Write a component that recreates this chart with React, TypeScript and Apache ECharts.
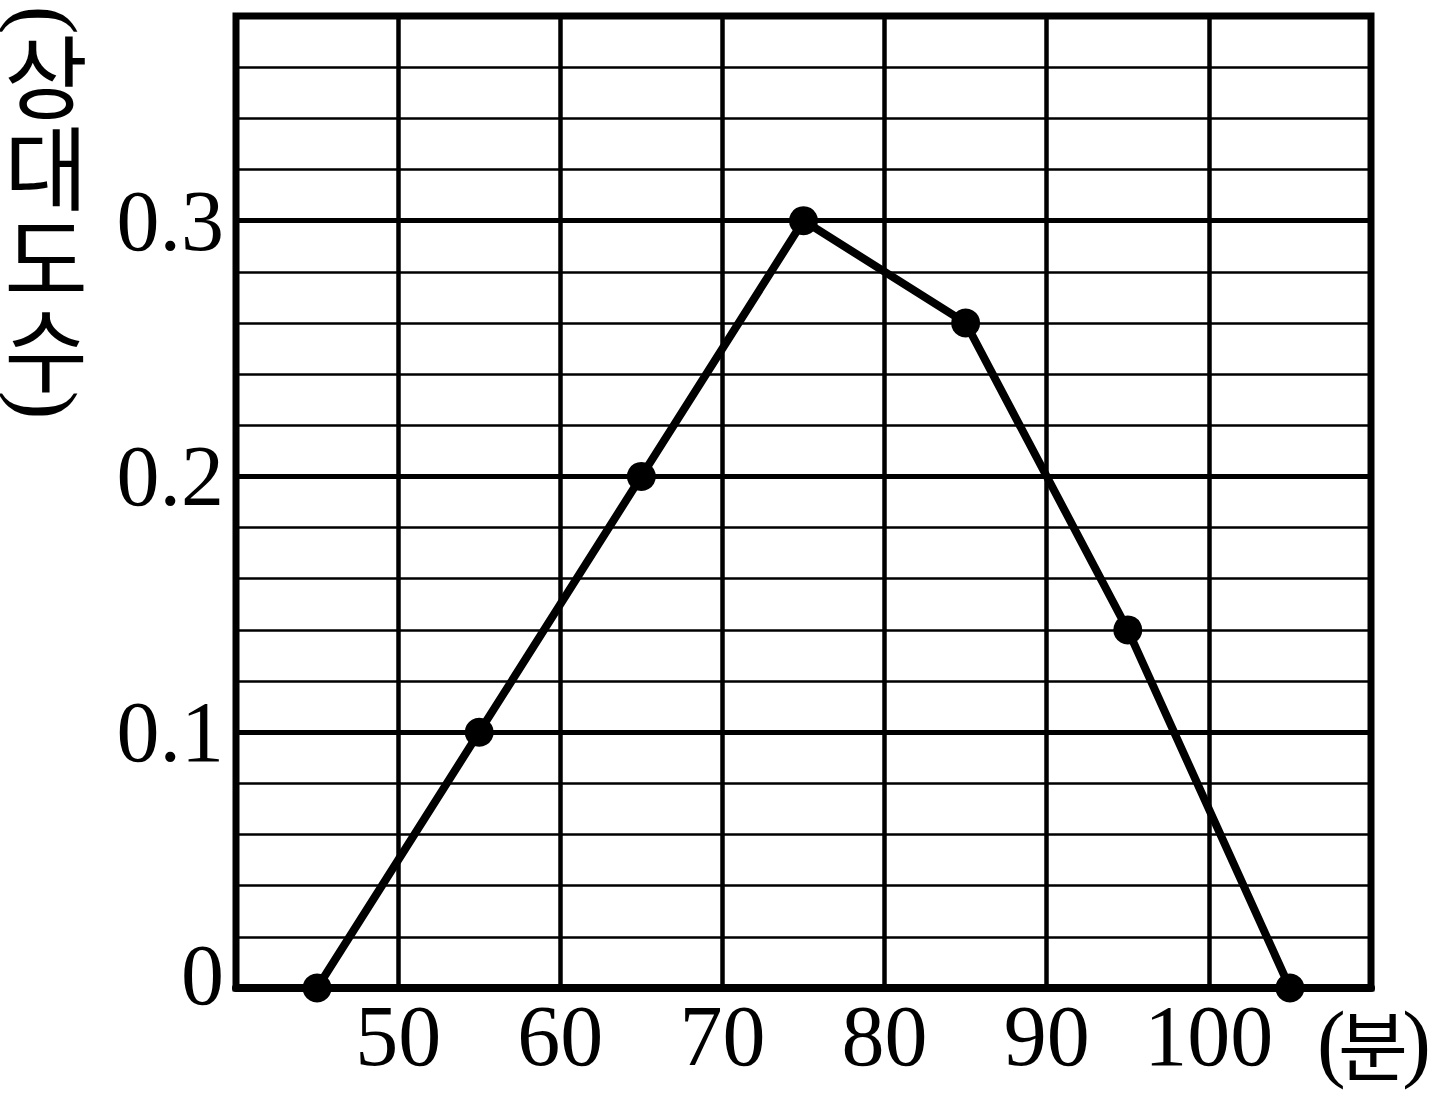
import React, { useEffect, useRef } from "react";
import * as echarts from "echarts";

const xValues = [45, 55, 65, 75, 85, 95, 105];
const yValues = [0, 0.1, 0.2, 0.3, 0.26, 0.14, 0];
const xTickLabels = ["50", "60", "70", "80", "90", "100"];
const yTickLabels = ["0", "0.1", "0.2", "0.3"];
const yTitleChars = ["상", "대", "도", "수"];
const xUnit = "분";

export default function App() {
  const ref = useRef<HTMLDivElement>(null);
  useEffect(() => {
    if (!ref.current) return;
    const chart = echarts.init(ref.current, null, { renderer: "svg" });
    const serif = "'Liberation Serif', 'Times New Roman', serif";
    const cjk = "'Noto Sans CJK KR', sans-serif";
    const graphics: any[] = [];
    const paren = (ch: string, cy: number) => ({
      type: "group",
      x: 46,
      y: cy,
      rotation: -Math.PI / 2,
      children: [
        {
          type: "text",
          x: 0,
          y: 0,
          style: {
            text: ch,
            font: `86px ${serif}`,
            lineHeight: 86,
            fill: "#000",
            align: "center",
            verticalAlign: "middle",
          },
        },
      ],
    });
    graphics.push(paren("(", 20));
    graphics.push({
      type: "text",
      x: 46,
      y: 26,
      style: {
        text: yTitleChars.join("\n"),
        font: `91px ${cjk}`,
        lineHeight: 91,
        fill: "#000",
        align: "center",
        verticalAlign: "top",
      },
    });
    graphics.push(paren(")", 405));

    graphics.push({
      type: "text",
      x: 1317,
      y: 1042,
      style: { text: "(", font: `86px ${serif}`, lineHeight: 86, fill: "#000", align: "left", verticalAlign: "middle" },
    });
    graphics.push({
      type: "text",
      x: 1373,
      y: 1042,
      style: { text: xUnit, font: `76px ${cjk}`, lineHeight: 76, fill: "#000", align: "center", verticalAlign: "middle" },
    });
    graphics.push({
      type: "text",
      x: 1431,
      y: 1042,
      style: { text: ")", font: `86px ${serif}`, lineHeight: 86, fill: "#000", align: "right", verticalAlign: "middle" },
    });

    const option: any = {
      animation: false,
      backgroundColor: "#fff",
      grid: {
        left: 236,
        top: 16,
        right: 61,
        bottom: 108,
        show: true,
        borderColor: "#000",
        borderWidth: 7,
        z: 3,
      },
      xAxis: {
        type: "value",
        min: 40,
        max: 110,
        interval: 10,
        axisLine: { show: true, lineStyle: { color: "#000", width: 8 } },
        axisTick: { show: false },
        splitLine: { show: true, lineStyle: { color: "#000", width: 4.5 } },
        axisLabel: {
          show: true,
          margin: 5,
          color: "#000",
          fontFamily: "Liberation Serif",
          fontSize: 86,
          formatter: (v: number) => {
            const s = String(Math.round(v));
            return xTickLabels.indexOf(s) >= 0 ? s : "";
          },
        },
      },
      yAxis: [
        {
          type: "value",
          min: 0,
          max: 0.38,
          interval: 0.02,
          axisLine: { show: false },
          axisTick: { show: false },
          splitLine: { show: true, lineStyle: { color: "#000", width: 2.7 } },
          axisLabel: { show: false },
        },
        {
          type: "value",
          min: 0,
          max: 0.38,
          interval: 0.1,
          position: "left",
          axisLine: { show: false },
          axisTick: { show: false },
          splitLine: { show: true, lineStyle: { color: "#000", width: 5 } },
          axisLabel: {
            show: true,
            margin: 12,
            color: "#000",
            fontFamily: "Liberation Serif",
            fontSize: 86,
            formatter: (v: number) => {
              const idx = Math.round(v * 10);
              if (v > 0.35) return "";
              const s = yTickLabels[idx];
              if (s === undefined) return "";
              return idx === 0 ? "{z|" + s + "}" : s;
            },
            rich: {
              z: { fontFamily: "Liberation Serif", fontSize: 86, color: "#000", padding: [0, 0, 26, 0] },
            },
          },
        },
      ],
      series: [
        {
          type: "line",
          yAxisIndex: 0,
          data: xValues.map((x, i) => [x, yValues[i]]),
          symbol: "circle",
          symbolSize: 29,
          showSymbol: true,
          clip: false,
          z: 10,
          lineStyle: { color: "#000", width: 8 },
          itemStyle: { color: "#000", borderWidth: 0 },
        },
      ],
      graphic: graphics,
    };
    chart.setOption(option);
    return () => chart.dispose();
  }, []);
  return (
    <div
      ref={ref}
      style={{ position: "fixed", left: 0, top: 0, width: 1432, height: 1096, background: "#fff" }}
    />
  );
}
